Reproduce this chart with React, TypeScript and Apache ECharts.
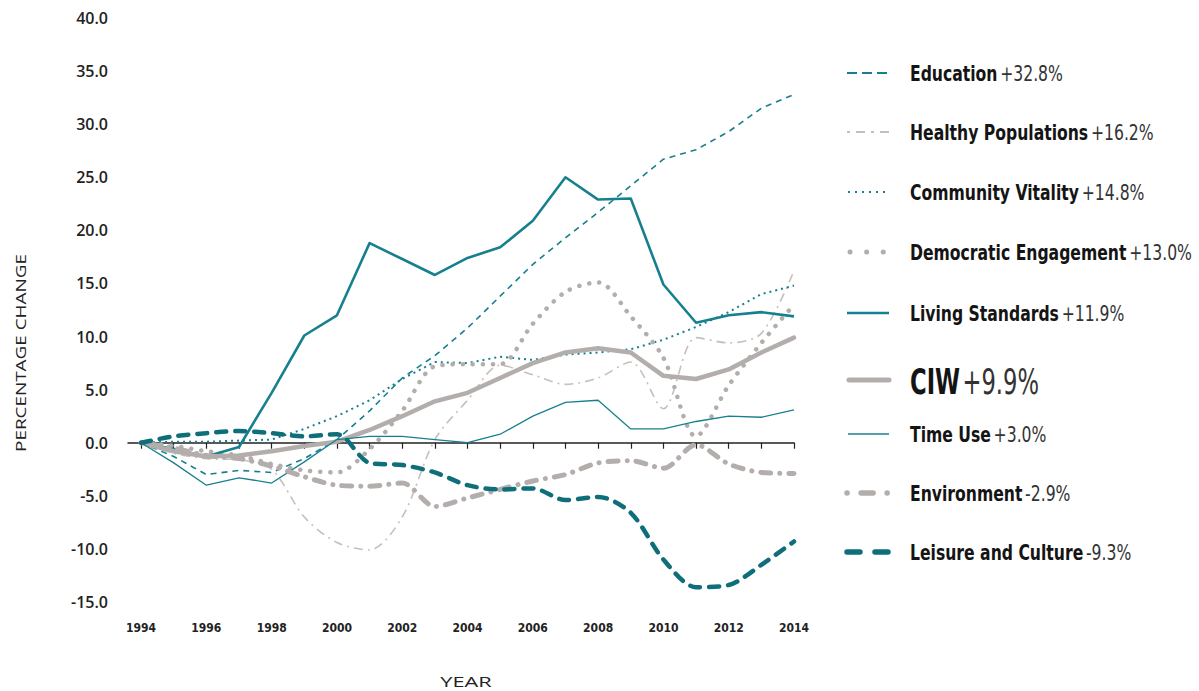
import React, { useEffect, useRef } from 'react';
import * as echarts from 'echarts';

const years = [1994, 1995, 1996, 1997, 1998, 1999, 2000, 2001, 2002, 2003, 2004, 2005, 2006, 2007, 2008, 2009, 2010, 2011, 2012, 2013, 2014];
const yearLabels = [1994, 1996, 1998, 2000, 2002, 2004, 2006, 2008, 2010, 2012, 2014];

const education = [0, -1.3, -3.0, -2.6, -2.8, -1.5, 0.3, 3.0, 6.1, 8.2, 10.8, 13.8, 16.8, 19.3, 21.7, 24.2, 26.7, 27.6, 29.3, 31.5, 32.8];
const healthy = [0, -1.0, -1.5, -1.6, -2.5, -7.0, -9.4, -10.1, -7.0, 0.3, 4.0, 7.3, 6.4, 5.5, 6.1, 7.6, 3.2, 9.9, 9.4, 10.3, 16.2];
const community = [0, 0.1, 0.1, 0.2, 0.3, 1.3, 2.5, 4.0, 6.0, 7.6, 7.5, 8.1, 7.8, 8.3, 8.5, 8.8, 9.7, 10.9, 12.3, 14.0, 14.8];
const democratic = [0, -0.3, -0.8, -1.2, -2.0, -2.6, -2.8, -0.6, 3.0, 7.2, 7.4, 7.4, 11.2, 14.2, 15.1, 11.9, 8.0, 0.6, 5.4, 9.4, 13.0];
const living = [0, -0.6, -1.3, -0.4, 4.7, 10.1, 12.0, 18.8, 17.3, 15.8, 17.4, 18.4, 20.9, 25.0, 22.9, 23.0, 14.9, 11.3, 12.0, 12.3, 11.9];
const ciw = [0, -0.8, -1.3, -1.2, -0.8, -0.3, 0.1, 1.2, 2.5, 3.9, 4.7, 6.1, 7.5, 8.5, 8.9, 8.5, 6.3, 6.0, 6.9, 8.5, 9.9];
const timeUse = [0, -1.9, -4.0, -3.3, -3.8, -1.8, 0.3, 0.6, 0.6, 0.3, 0.0, 0.8, 2.5, 3.8, 4.0, 1.3, 1.3, 2.0, 2.5, 2.4, 3.1];
const environment = [0, -0.5, -1.2, -1.5, -2.2, -3.2, -4.0, -4.1, -3.8, -6.0, -5.2, -4.4, -3.6, -3.0, -1.9, -1.7, -2.4, -0.2, -2.0, -2.8, -2.9];
const leisure = [0, 0.6, 0.9, 1.1, 0.9, 0.6, 0.8, -1.9, -2.1, -2.8, -4.0, -4.4, -4.3, -5.4, -5.1, -6.6, -11.0, -13.6, -13.4, -11.5, -9.3];

const legendNames = ['Education', 'Healthy Populations', 'Community Vitality', 'Democratic Engagement', 'Living Standards', 'CIW', 'Time Use', 'Environment', 'Leisure and Culture'];
const legendChanges = ['+32.8%', '+16.2%', '+14.8%', '+13.0%', '+11.9%', '+9.9%', '+3.0%', '-2.9%', '-9.3%'];

const TEAL = '#17808e';
const TEAL_DARK = '#0e6f7a';
const GRAY = '#b3aeab';
const GRAY_LIGHT = '#c4c0bd';

type Style = { color: string; width: number; dash: any; cap: string; smooth: number | boolean; legendDash: any; legendWidth: number; x1: number; x2: number };
const styles: Style[] = [
  { color: TEAL, width: 1.6, dash: [6, 5], cap: 'butt', smooth: false, legendDash: [10, 5], legendWidth: 1.8, x1: 847, x2: 888 },
  { color: GRAY_LIGHT, width: 1.6, dash: [9, 5, 2, 5], cap: 'butt', smooth: 0.3, legendDash: [3, 6, 9, 6], legendWidth: 1.8, x1: 847, x2: 889 },
  { color: TEAL, width: 2, dash: [2, 4], cap: 'butt', smooth: false, legendDash: [2, 5], legendWidth: 2, x1: 848, x2: 889 },
  { color: GRAY, width: 4.5, dash: [0.1, 10], cap: 'round', smooth: 0.3, legendDash: [0.1, 16.5], legendWidth: 5, x1: 850, x2: 884 },
  { color: TEAL, width: 2.6, dash: 'solid', cap: 'butt', smooth: false, legendDash: null, legendWidth: 2.6, x1: 847, x2: 889 },
  { color: GRAY, width: 4.5, dash: 'solid', cap: 'round', smooth: false, legendDash: null, legendWidth: 5, x1: 849, x2: 889 },
  { color: TEAL, width: 1.3, dash: 'solid', cap: 'butt', smooth: false, legendDash: null, legendWidth: 1.4, x1: 848, x2: 889 },
  { color: GRAY, width: 5, dash: [0.1, 9, 10, 9], cap: 'round', smooth: 0.3, legendDash: [0.1, 14, 12, 14], legendWidth: 5.5, x1: 847, x2: 889 },
  { color: TEAL_DARK, width: 4.5, dash: [10, 9], cap: 'round', smooth: 0.3, legendDash: [13, 15], legendWidth: 5.5, x1: 847, x2: 891 },
];
const seriesData = [education, healthy, community, democratic, living, ciw, timeUse, environment, leisure];
const legendY = [73, 132, 192, 252, 313, 380, 434, 493, 552];

const NARROW = "'Liberation Sans Narrow', 'DejaVu Sans Condensed', 'DejaVu Sans', sans-serif";
const GEO = "'Open Sans', 'DejaVu Sans', sans-serif";

export default function App() {
  const ref = useRef<HTMLDivElement>(null);
  useEffect(() => {
    if (!ref.current) return;
    const chart = echarts.init(ref.current, undefined, { renderer: 'svg' });

    const series = seriesData.map((arr, i) => ({
      name: legendNames[i],
      type: 'line',
      xAxisIndex: 0,
      yAxisIndex: 0,
      data: years.map((yr, k) => [yr, arr[k]]),
      showSymbol: false,
      smooth: styles[i].smooth,
      z: 3,
      lineStyle: {
        color: styles[i].color,
        width: styles[i].width,
        type: styles[i].dash,
        cap: styles[i].cap,
        join: 'round',
      },
    }));

    const graphics: any[] = [];
    legendNames.forEach((name, i) => {
      const y = legendY[i];
      const s = styles[i];
      graphics.push({
        type: 'line',
        shape: { x1: s.x1, y1: y, x2: s.x2, y2: y },
        style: {
          stroke: s.color,
          lineWidth: s.legendWidth,
          lineDash: s.legendDash,
          lineCap: s.cap,
        },
      });
      const big = i === 5;
      graphics.push({
        type: 'text',
        x: 910,
        y: y + 1,
        scaleX: big ? 0.7 : 0.79,
        style: {
          text: `{n|${name}} {v|${legendChanges[i]}}`,
          verticalAlign: 'middle',
          rich: {
            n: { fontFamily: NARROW, fontWeight: 'bold', fontSize: big ? 36 : 22, fill: '#141414' },
            v: { fontFamily: NARROW, fontWeight: 'normal', fontSize: big ? 36 : 22, fill: '#333' },
          },
        },
      });
    });
    graphics.push({
      type: 'text',
      x: 21,
      y: 353,
      rotation: Math.PI / 2,
      scaleX: 1.35,
      style: {
        text: 'PERCENTAGE CHANGE',
        fontFamily: GEO,
        fontSize: 14,
        fill: '#222',
        align: 'center',
        verticalAlign: 'middle',
      },
    });
    graphics.push({
      type: 'text',
      x: 466,
      y: 681,
      scaleX: 1.45,
      style: {
        text: 'YEAR',
        fontFamily: GEO,
        fontSize: 15,
        fill: '#222',
        align: 'center',
        verticalAlign: 'middle',
      },
    });

    chart.setOption({
      animation: false,
      grid: { left: 128, right: 405, top: 18, bottom: 89, containLabel: false },
      xAxis: [
        {
          type: 'value',
          position: 'bottom',
          min: 1993.6,
          max: 2014,
          axisLine: { show: false, onZero: false },
          axisTick: { show: false },
          splitLine: { show: false },
          axisLabel: {
            customValues: yearLabels,
            margin: 20,
            fontFamily: NARROW,
            fontWeight: 'bold',
            fontSize: 12,
            color: '#222',
            formatter: (v: number) => String(v),
          },
        },
        {
          type: 'value',
          position: 'bottom',
          min: 1993.6,
          max: 2014,
          axisLine: { show: true, onZero: true, lineStyle: { color: '#222', width: 1.5 } },
          axisTick: { show: true, customValues: years, length: 6, lineStyle: { color: '#222', width: 1.2 } },
          axisLabel: { show: false },
          splitLine: { show: false },
        },
      ],
      yAxis: {
        type: 'value',
        min: -15,
        max: 40,
        interval: 5,
        axisLine: { show: false },
        axisTick: { show: false },
        splitLine: { show: false },
        axisLabel: {
          margin: 20,
          fontFamily: GEO,
          fontSize: 16,
          fontWeight: 600,
          color: '#222',
          formatter: (v: number) => v.toFixed(1),
        },
      },
      series,
      graphic: graphics,
    });
    return () => chart.dispose();
  }, []);
  return <div ref={ref} style={{ position: 'fixed', left: 0, top: 0, width: 1199, height: 691, background: '#fff' }} />;
}
